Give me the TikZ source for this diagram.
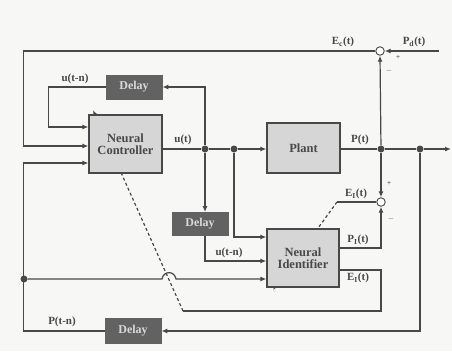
\documentclass[tikz,border=0pt]{standalone}
\usepackage{fontspec}
\setmainfont{Liberation Serif}
\usetikzlibrary{arrows.meta,calc}
\definecolor{lc}{RGB}{72,72,72}
\definecolor{boxgray}{RGB}{214,214,214}
\definecolor{dkgray}{RGB}{98,98,98}
\definecolor{bgc}{RGB}{247,247,245}
\pgfdeclarelayer{bg}
\pgfsetlayers{bg,main}
\begin{document}
\begin{tikzpicture}[x=1pt,y=-1pt,
  wire/.style={draw=lc,line width=1.2pt},
  arr/.style={wire,-{Latex[length=6pt,width=5pt]}},
  tune/.style={draw=lc,line width=1.2pt,dash pattern=on 3pt off 2.5pt,-{Latex[length=6pt,width=5pt]}},
  blk/.style={draw=lc,fill=boxgray,line width=1.2pt,minimum width=73pt,inner sep=0pt,align=center,
    text=lc,font=\bfseries\fontsize{12.5}{12.5}\selectfont},
  dly/.style={draw=dkgray,fill=dkgray,line width=0.8pt,minimum width=56pt,minimum height=24pt,inner sep=0pt,
    text=white!85!black,font=\bfseries\fontsize{12}{12}\selectfont},
  jdot/.style={circle,fill=lc,inner sep=0pt,minimum size=7pt},
  sumc/.style={circle,draw=lc,fill=white,line width=0.9pt,inner sep=0pt,minimum size=8.5pt},
  lbl/.style={text=lc,inner sep=1pt,font=\bfseries\fontsize{11}{11}\selectfont},
  sgn/.style={text=lc,inner sep=0pt,font=\bfseries\fontsize{7}{7}\selectfont}]
\begin{pgfonlayer}{bg}
\fill[bgc] (0,0) rectangle (452,351);
\end{pgfonlayer}
\useasboundingbox (0,0) rectangle (452,351);

% blocks
\node[blk,minimum height=58pt] (ctrl) at (125.5,144) {Neural\\Controller};
\node[blk,minimum height=50pt] (plant) at (303.5,148) {Plant};
\node[blk,minimum width=72pt,minimum height=58pt] (ident) at (303,258) {Neural\\Identifier};
\node[dly] (d1) at (134,87) {Delay};
\node[dly,minimum height=23pt] (d2) at (200,224) {Delay};
\node[dly,minimum height=25pt] (d3) at (133,331) {Delay};
\node[sumc] (s1) at (380,51) {};
\node[sumc] (s2) at (381,202) {};

% junctions
\node[jdot] (ju) at (205,149) {};
\node[jdot] (ja) at (234,149) {};
\node[jdot] (jp) at (381,149) {};
\node[jdot] (jq) at (420,149) {};
\node[jdot] (jl) at (24,279) {};
\coordinate (out) at (451,149);
\coordinate (pd) at (439,51);
\coordinate (ecorner) at (183,311);
\coordinate (ctip) at (93,110);
\coordinate (ebend) at (337,202);
\coordinate (itip) at (273,290);

% ports
\coordinate (ci1) at ($(ctrl.west)+(0,-17)$);
\coordinate (ci2) at ($(ctrl.west)+(0,2)$);
\coordinate (ci3) at ($(ctrl.west)+(0,19)$);
\coordinate (ii1) at ($(ident.west)+(0,-21)$);
\coordinate (ii2) at ($(ident.west)+(0,3)$);
\coordinate (ii3) at ($(ident.west)+(0,21)$);
\coordinate (io1) at ($(ident.east)+(0,-10)$);
\coordinate (io2) at ($(ident.east)+(0,12)$);

% tuning (dashed) arrows behind blocks
\begin{pgfonlayer}{bg}
\draw[tune] (ecorner) -- (ctip);
\draw[tune] (ebend) -- (itip);
\end{pgfonlayer}

% main path
\draw[arr] (ctrl.east |- ju) -- (ju) -- (ja) -- (plant.west |- ja);
\draw[arr] (plant.east |- jp) -- (jp) -- (jq) -- (out);
\draw[arr] (jp) -- (s1.south);
\draw[arr] (jp) -- (s2.north);
\draw[arr] (pd) -- (s1.east);
\draw[arr] (s1.west) -| ($(ci2)+(-65,0)$) -- (ci2);

% controller delay loop
\draw[arr] (ju) |- (d1.east);
\draw[arr] (d1.west) -- ++(-57,0) |- (ci1);

% identifier inputs
\draw[arr] (ju) -- (ju |- d2.north);
\draw[arr] (ju |- d2.south) |- (ii2);
\draw[arr] (ja) |- (ii1);
\draw[arr] (jl) -- (162,279) .. controls (163.5,270.5) and (174.5,270.5) .. (176,279) -- (ii3);

% identifier outputs
\draw[arr] (io1) -| (s2.south);
\draw[wire] (io2) -- (io2 -| s2) |- (ecorner);
\draw[wire] (s2.west) -- (ebend);

% plant output delay
\draw[arr] (jq) |- (d3.east);
\draw[arr] (d3.west) -- ++(-81,0) |- (ci3);

% labels
\node[lbl] at (75,79) {u(t-n)};
\node[lbl] at (183,140) {u(t)};
\node[lbl] at (360,140) {P(t)};
\node[lbl] at (343,42) {E\textsubscript{c}(t)};
\node[lbl] at (414,42) {P\textsubscript{d}(t)};
\node[sgn] at (398,58) {+};
\node[sgn] at (389,71) {$-$};
\node[sgn] at (389,184) {+};
\node[sgn] at (391,219) {$-$};
\node[lbl] at (356,194) {E\textsubscript{I}(t)};
\node[lbl] at (358,240) {P\textsubscript{I}(t)};
\node[lbl] at (358,278) {E\textsubscript{I}(t)};
\node[lbl] at (229,253) {u(t-n)};
\node[lbl] at (62,322) {P(t-n)};
\end{tikzpicture}
\end{document}
